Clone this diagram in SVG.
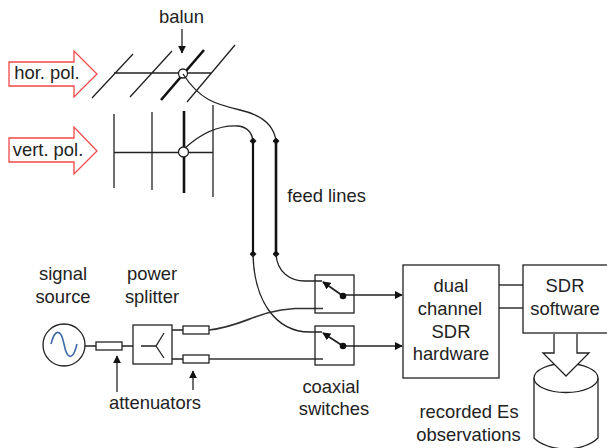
<svg xmlns="http://www.w3.org/2000/svg" width="607" height="448" viewBox="0 0 607 448">
<defs>
<marker id="ah" viewBox="0 0 10 10" refX="9" refY="5" markerWidth="8" markerHeight="8" markerUnits="userSpaceOnUse" orient="auto"><path d="M0,0L10,5L0,10Z" fill="#111"/></marker>
<marker id="dot" viewBox="0 0 8 8" refX="4" refY="4" markerWidth="7" markerHeight="7" markerUnits="userSpaceOnUse"><path d="M4,0L8,4L4,8L0,4Z" fill="#111"/></marker>
</defs>
<style>
text{font-family:"Liberation Sans",Arial,sans-serif;font-size:18.400px;fill:#222;text-anchor:middle}
.l{fill:none;stroke:#222;stroke-width:1.3}
.t{fill:none;stroke:#111;stroke-width:2.6}
.m{fill:none;stroke:#333;stroke-width:1.7}
.b{fill:#fff;stroke:#222;stroke-width:1.3}
.r{fill:#fff;stroke:#f04848;stroke-width:1.3}
.a{fill:none;stroke:#222;stroke-width:1.3;marker-end:url(#ah)}
</style>
<g id="hor-pol"><path class="r" d="M9,62H74V51L97,74L74,97V86H9Z"/><text x="47" y="79">hor. pol.</text></g>
<g id="vert-pol"><path class="r" d="M9,138H74V127L97,151L74,174V162H9Z"/><text x="48" y="156">vert. pol.</text></g>
<g id="hor-antenna">
<path class="l" d="M114,73H211M92,98L133,54M130,97L172,51M187,102L235,45"/>
<path class="t" d="M161,100L204,50"/>
<circle class="b" cx="183" cy="73.500" r="4.500"/>
</g>
<g id="vert-antenna">
<path class="l" d="M114,152.500H213M114,114V188M152,112V190M213,105V197"/>
<path class="t" d="M184,111V193"/>
<circle class="b" cx="183.500" cy="152" r="5"/>
</g>
<g id="balun"><text x="181.500" y="23">balun</text><path class="a" d="M182,29V53"/></g>
<g id="feed-lines-label"><text x="326.500" y="202">feed lines</text></g>
<g id="signal-source">
<text x="63" y="280">signal</text><text x="63" y="303">source</text>
<circle class="b" cx="64" cy="345" r="21"/>
<path d="M51,344C55,328 61,329 64,344C67,360 73,361 77,344" fill="none" stroke="#3f6aa8" stroke-width="1.600"/>
</g>
<g id="power-splitter">
<text x="152" y="280">power</text><text x="152" y="303">splitter</text>
<rect class="b" x="133" y="325" width="39" height="39"/>
<path class="l" d="M141,346H156L164,333M156,346L164,358"/>
</g>
<g id="attenuators">
<rect class="b" x="96" y="342" width="26" height="8"/>
<rect class="b" x="183" y="326" width="26" height="8"/>
<rect class="b" x="183" y="355" width="26" height="8"/>
<text x="155" y="409">attenuators</text>
<path class="a" d="M117,392V356"/><path class="a" d="M193,390V371"/>
</g>
<g id="connectors">
<path class="l" d="M85,346H96M122,346H133M172,330H183M172,359H183"/>
<path class="l" d="M183,74C200,100 215,104 240,110C262,115 274,125 276,141"/>
<path class="l" d="M185,148C205,130 222,125 238,126C247,127 252,133 253,141"/>
<path class="t" d="M253,141V254" marker-start="url(#dot)" marker-end="url(#dot)" style="stroke-width:2.200"/>
<path class="t" d="M276,141V254" marker-start="url(#dot)" marker-end="url(#dot)"/>
<path class="l" d="M276,254C277,272 290,281 305,281H322"/>
<path class="l" d="M253,254C254,300 275,332 310,332H322"/>
<path class="m" d="M209,330C245,326 255,311 295,308.500H323"/>
<path class="m" d="M209,359H323"/>
<path class="a" d="M343,295H402"/>
<path class="a" d="M343,346H402"/>
<path class="m" d="M499,285H523M499,308H523"/>
</g>
<g id="switch-1">
<rect x="315" y="275" width="39" height="38" fill="none" stroke="#222" stroke-width="1.300"/>
<path class="a" d="M343,296L323,282" style="stroke-width:1.800"/><circle cx="343" cy="296" r="3.300" fill="#111"/>
</g>
<g id="switch-2">
<rect x="315" y="326" width="39" height="39" fill="none" stroke="#222" stroke-width="1.300"/>
<path class="a" d="M343,346L323,333" style="stroke-width:1.800"/><circle cx="343" cy="346" r="3.300" fill="#111"/>
<text x="331" y="393">coaxial</text><text x="334" y="415">switches</text>
</g>
<g id="sdr-hardware">
<rect class="b" x="403" y="265" width="96" height="113"/>
<text x="451" y="292">dual</text><text x="450" y="315">channel</text><text x="451" y="338">SDR</text><text x="451" y="360">hardware</text>
</g>
<g id="sdr-software">
<rect class="b" x="523" y="265" width="90" height="68"/>
<text x="565" y="292">SDR</text><text x="565" y="315">software</text>
</g>
<g id="storage">
<path class="b" d="M534,378V438C540,444 552,449 566,449C580,449 592,444 598,438V378"/>
<ellipse class="b" cx="566" cy="378" rx="32" ry="14.500"/>
<path class="b" d="M554,334V353H543L566,376L589,353H577V334"/>
<text x="469" y="418">recorded Es</text><text x="468.500" y="441">observations</text>
</g>
</svg>
